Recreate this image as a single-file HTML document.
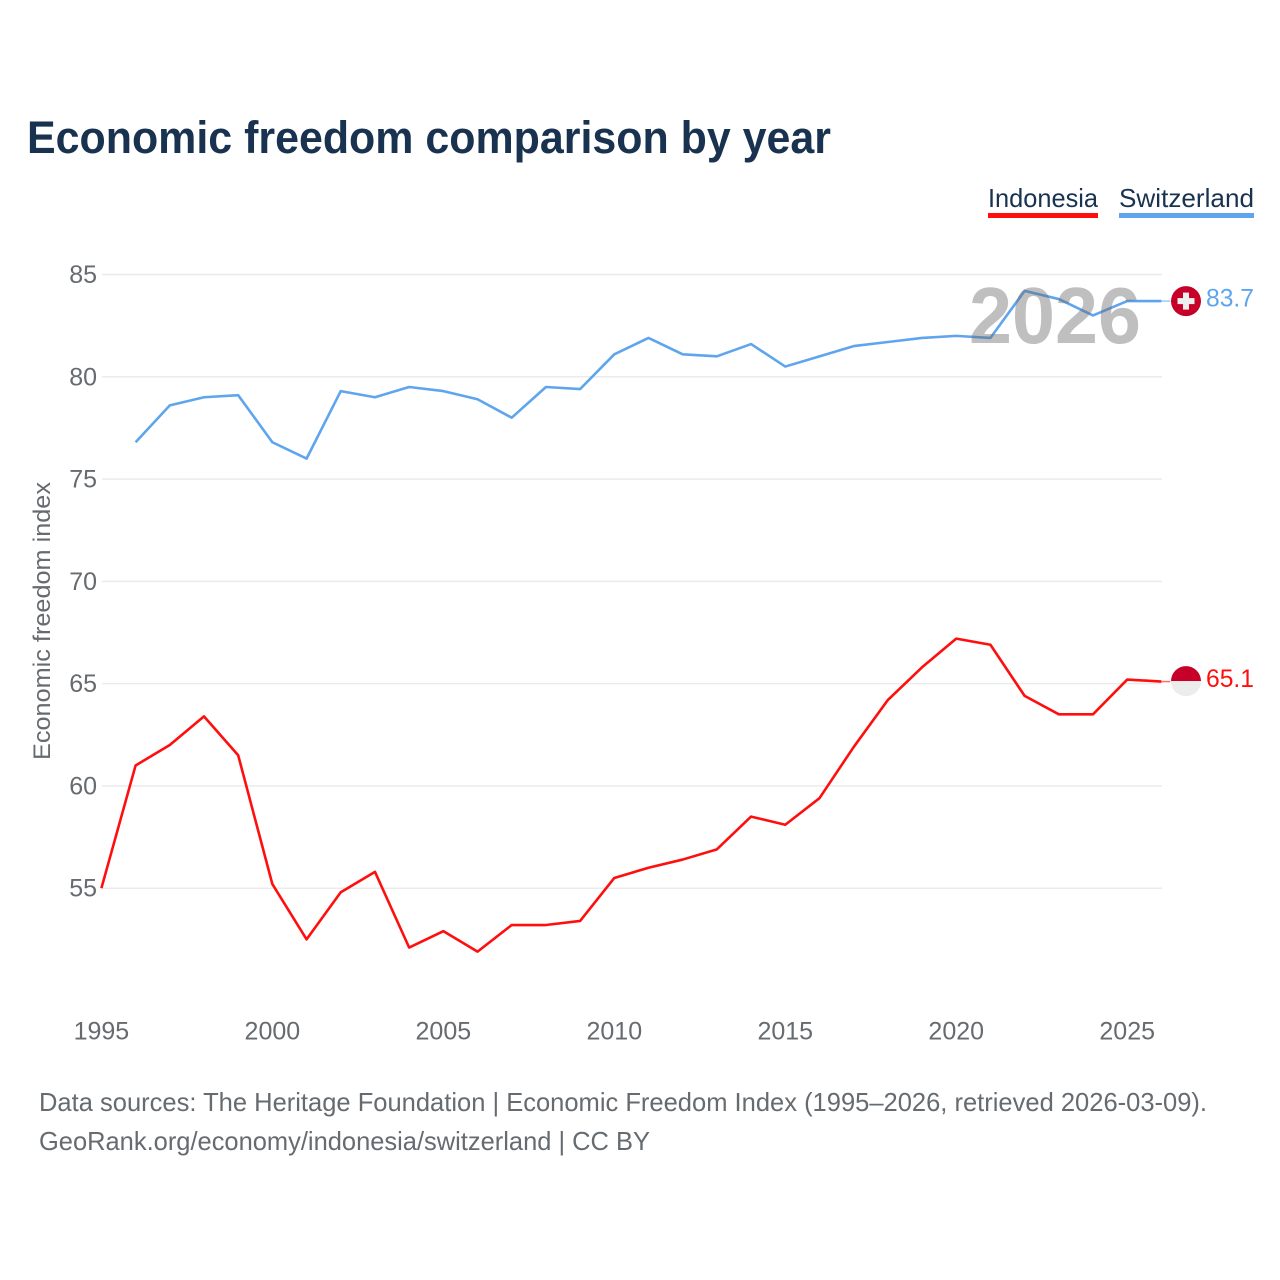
<!DOCTYPE html>
<html lang="en">
<head>
<meta charset="utf-8">
<title>Economic freedom comparison by year</title>
<style>
html,body{margin:0;padding:0;background:#fff;width:1280px;height:1280px;overflow:hidden}
svg{display:block}
text{font-family:"Liberation Sans",sans-serif}
</style>
</head>
<body>
<svg id="chart" xmlns="http://www.w3.org/2000/svg" width="1280" height="1280" viewBox="0 0 1280 1280">
  <rect width="1280" height="1280" fill="#fff"/>
  <text x="27" y="153" font-size="45" font-weight="700" fill="#18324f" textLength="804" lengthAdjust="spacingAndGlyphs">Economic freedom comparison by year</text>

  <g style="cursor:pointer">
    <text x="988" y="207" font-size="26" fill="#18324f" textLength="110" lengthAdjust="spacingAndGlyphs">Indonesia</text>
    <rect x="988" y="213" width="110" height="5" fill="#ff0e0e"/>
  </g>
  <g style="cursor:pointer">
    <text x="1119" y="207" font-size="26" fill="#18324f" textLength="135" lengthAdjust="spacingAndGlyphs">Switzerland</text>
    <rect x="1119" y="213" width="135" height="5" fill="#5fa5ee"/>
  </g>

  <g id="grid"></g>
  <g id="yticks"></g>
  <g id="xticks"></g>
  <g id="series"></g>
  <g id="endmarks"></g>

  <text transform="translate(50,760) rotate(-90)" font-size="24" fill="#666b70" textLength="278" lengthAdjust="spacingAndGlyphs">Economic freedom index</text>

  <text x="969" y="343" font-size="80" font-weight="700" fill="#666" fill-opacity="0.42" textLength="172" lengthAdjust="spacingAndGlyphs">2026</text>

  <text x="39" y="1111" font-size="26" fill="#666b70" textLength="1168" lengthAdjust="spacingAndGlyphs">Data sources: The Heritage Foundation | Economic Freedom Index (1995–2026, retrieved 2026-03-09).</text>
  <text x="39" y="1150" font-size="26" fill="#666b70" textLength="611" lengthAdjust="spacingAndGlyphs">GeoRank.org/economy/indonesia/switzerland | CC BY</text>
</svg>
<script>
const years = [1995,1996,1997,1998,1999,2000,2001,2002,2003,2004,2005,2006,2007,2008,2009,2010,2011,2012,2013,2014,2015,2016,2017,2018,2019,2020,2021,2022,2023,2024,2025,2026];
const indonesia = [55,61,62,63.4,61.5,55.2,52.5,54.8,55.8,52.1,52.9,51.9,53.2,53.2,53.4,55.5,56,56.4,56.9,58.5,58.1,59.4,61.9,64.2,65.8,67.2,66.9,64.4,63.5,63.5,65.2,65.1];
const switzerland = [null,76.8,78.6,79,79.1,76.8,76,79.3,79,79.5,79.3,78.9,78,79.5,79.4,81.1,81.9,81.1,81,81.6,80.5,81,81.5,81.7,81.9,82,81.9,84.2,83.8,83,83.7,83.7];
const yTickValues = [55,60,65,70,75,80,85];
const xTickValues = [1995,2000,2005,2010,2015,2020,2025];

const NS = 'http://www.w3.org/2000/svg';
const xScale = function (yr) { return 101.4 + (yr - 1995) * (1060 / 31); };
const yScale = function (v) { return 888.2 - (v - 55) * (613.7 / 30); };

function make(tag, parent, attrs) {
  const el = document.createElementNS(NS, tag);
  for (const k in attrs) el.setAttribute(k, attrs[k]);
  parent.appendChild(el);
  return el;
}

const grid = document.getElementById('grid');
const yticks = document.getElementById('yticks');
const xticks = document.getElementById('xticks');
const seriesG = document.getElementById('series');
const endG = document.getElementById('endmarks');

yTickValues.forEach(function (v) {
  const line = make('line', grid, {x1: 102, x2: 1162, y1: yScale(v), y2: yScale(v), stroke: '#ebebeb', 'stroke-width': 1.5});
  
  
  const t = make('text', yticks, {x: 97, y: yScale(v) + 8.5, 'text-anchor': 'end', 'font-size': 25, fill: '#666b70'});
  t.textContent = String(v);
  
  
});

xTickValues.forEach(function (yr) {
  const t = make('text', xticks, {x: xScale(yr), y: 1039.5, 'text-anchor': 'middle', 'font-size': 25, fill: '#666b70'});
  t.textContent = String(yr);
  
  
});

function drawSeries(values, color, key) {
  let d = '';
  let lastX = 0, lastY = 0;
  values.forEach(function (v, i) {
    if (v === null) return;
    lastX = xScale(years[i]);
    lastY = yScale(v);
    d += (d ? 'L' : 'M') + lastX.toFixed(2) + ' ' + lastY.toFixed(2);
  });
  const p = make('path', seriesG, {d: d, fill: 'none', stroke: color, 'stroke-width': 2.6, 'stroke-linejoin': 'round'});
  
  
  const c = make('line', seriesG, {x1: lastX, x2: lastX + 9, y1: lastY, y2: lastY, stroke: color, 'stroke-width': 1.5, 'stroke-opacity': 0.6});
  
  
  return lastY;
}

const endIndo = drawSeries(indonesia, '#ff0e0e', 'indonesia');
const endSwiss = drawSeries(switzerland, '#5fa5ee', 'switzerland');

function label(value, y, color, key) {
  const t = make('text', endG, {x: 1206, y: y + 5.5, 'font-size': 25, fill: color, textLength: 48, lengthAdjust: 'spacingAndGlyphs'});
  t.textContent = value.toFixed(1);
  
  
}

const cx = 1186;
const swissFlag = make('g', endG, {transform: 'translate(' + cx + ',' + endSwiss + ')'});


make('circle', swissFlag, {r: 15, fill: '#c60029'});
make('rect', swissFlag, {x: -8.5, y: -3, width: 17, height: 6, fill: '#eee'});
make('rect', swissFlag, {x: -3, y: -8.5, width: 6, height: 17, fill: '#eee'});

const indoFlag = make('g', endG, {transform: 'translate(' + cx + ',' + (endIndo - 0.5) + ')'});


make('path', indoFlag, {d: 'M-15 0A15 15 0 0 1 15 0Z', fill: '#c60029'});
make('path', indoFlag, {d: 'M-15 0A15 15 0 0 0 15 0Z', fill: '#ececec'});

label(switzerland[switzerland.length - 1], endSwiss, '#5fa5ee', 'switzerland');
label(indonesia[indonesia.length - 1], endIndo, '#ff0e0e', 'indonesia');
</script>
</body>
</html>
